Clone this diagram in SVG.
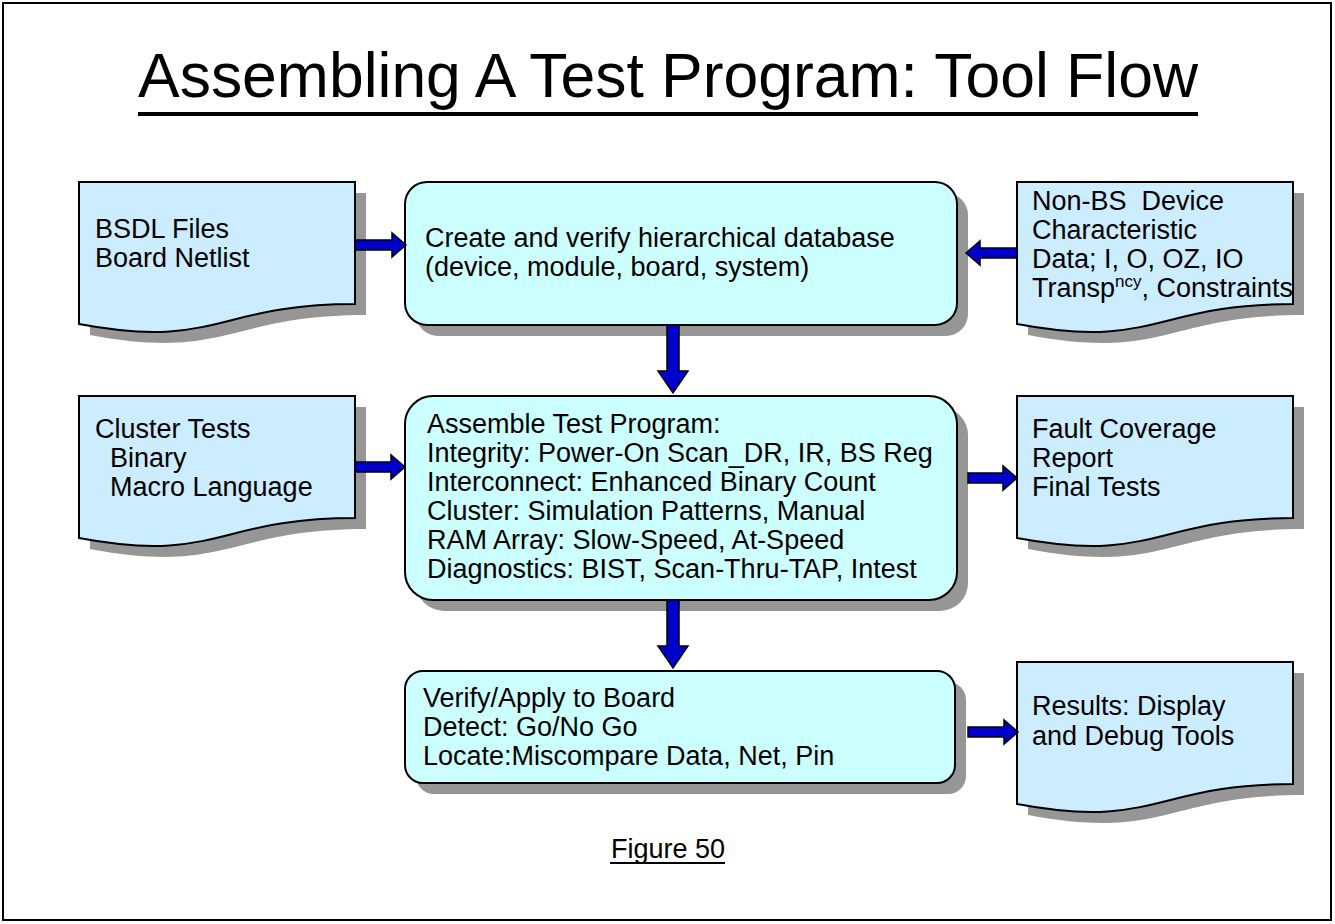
<svg xmlns="http://www.w3.org/2000/svg" width="1335" height="924" viewBox="0 0 1335 924">
<style>
text{font-family:"Liberation Sans",Arial,sans-serif;font-size:27px;fill:#000;white-space:pre}
.doc{fill:#CCECFF;stroke:#000;stroke-width:2}
.box{fill:#CCFFFF;stroke:#000;stroke-width:2}
.sh{fill:#969696}
.arr{fill:#0000CC;stroke:#000;stroke-width:1.5;stroke-linejoin:miter}
</style>
<rect x="3" y="3" width="1328" height="917" fill="#fff" stroke="#000" stroke-width="2"/>
<g id="title">
<text x="668" y="97" text-anchor="middle" style="font-size:62.5px" textLength="1060" lengthAdjust="spacingAndGlyphs">Assembling A Test Program: Tool Flow</text>
<rect x="138" y="112" width="1060" height="4" fill="#000"/>
</g>
<g id="bsdl">
<path class="sh" transform="translate(11,11)" d="M79,182 H355 V304 C217,304 217,350 79,324 Z"/>
<path class="doc" d="M79,182 H355 V304 C217,304 217,350 79,324 Z"/>
<text x="95" y="238">BSDL Files</text>
<text x="95" y="267">Board Netlist</text>
</g>
<g id="create">
<rect class="sh" x="416" y="193" width="552" height="143" rx="22"/>
<rect class="box" x="405" y="182" width="552" height="143" rx="22"/>
<text x="425" y="247">Create and verify hierarchical database</text>
<text x="425" y="276">(device, module, board, system)</text>
</g>
<g id="nonbs">
<path class="sh" transform="translate(11,11)" d="M1017,182 H1293 V304 C1155,304 1155,350 1017,324 Z"/>
<path class="doc" d="M1017,182 H1293 V304 C1155,304 1155,350 1017,324 Z"/>
<text x="1032" y="210">Non-BS  Device</text>
<text x="1032" y="239">Characteristic</text>
<text x="1032" y="268">Data; I, O, OZ, IO</text>
<text x="1032" y="297">Transp<tspan dy="-10" style="font-size:17px">ncy</tspan><tspan dy="10">, Constraints</tspan></text>
</g>
<g id="cluster">
<path class="sh" transform="translate(11,11)" d="M79,396 H355 V518 C217,518 217,564 79,538 Z"/>
<path class="doc" d="M79,396 H355 V518 C217,518 217,564 79,538 Z"/>
<text x="95" y="438">Cluster Tests</text>
<text x="95" y="467">  Binary</text>
<text x="95" y="496">  Macro Language</text>
</g>
<g id="assemble">
<rect class="sh" x="416" y="407" width="552" height="204" rx="28"/>
<rect class="box" x="405" y="396" width="552" height="204" rx="28"/>
<text x="427" y="433">Assemble Test Program:</text>
<text x="427" y="462">Integrity: Power-On Scan_DR, IR, BS Reg</text>
<text x="427" y="491">Interconnect: Enhanced Binary Count</text>
<text x="427" y="520">Cluster: Simulation Patterns, Manual</text>
<text x="427" y="549">RAM Array: Slow-Speed, At-Speed</text>
<text x="427" y="578">Diagnostics: BIST, Scan-Thru-TAP, Intest</text>
</g>
<g id="fault">
<path class="sh" transform="translate(11,11)" d="M1017,396 H1293 V518 C1155,518 1155,564 1017,538 Z"/>
<path class="doc" d="M1017,396 H1293 V518 C1155,518 1155,564 1017,538 Z"/>
<text x="1032" y="438">Fault Coverage</text>
<text x="1032" y="467">Report</text>
<text x="1032" y="496">Final Tests</text>
</g>
<g id="verify">
<rect class="sh" x="416" y="682" width="550" height="112" rx="18"/>
<rect class="box" x="405" y="671" width="550" height="112" rx="18"/>
<text x="423" y="707">Verify/Apply to Board</text>
<text x="423" y="736">Detect: Go/No Go</text>
<text x="423" y="765">Locate:Miscompare Data, Net, Pin</text>
</g>
<g id="results">
<path class="sh" transform="translate(11,11)" d="M1017,662 H1293 V784 C1155,784 1155,830 1017,804 Z"/>
<path class="doc" d="M1017,662 H1293 V784 C1155,784 1155,830 1017,804 Z"/>
<text x="1032" y="715">Results: Display</text>
<text x="1032" y="745">and Debug Tools</text>
</g>
<g id="connectors">
<polygon class="arr" points="355,240 392,240 392,233 406,245 392,257 392,250 355,250"/>
<polygon class="arr" points="1017,248 980,248 980,241 966,253 980,265 980,258 1017,258"/>
<polygon class="arr" points="355,462 391,462 391,455 405,467 391,479 391,472 355,472"/>
<polygon class="arr" points="968,473 1003,473 1003,466 1017,478 1003,490 1003,483 968,483"/>
<polygon class="arr" points="968,727 1004,727 1004,720 1018,732 1004,744 1004,737 968,737"/>
<polygon class="arr" points="667,325 679,325 679,371 688,371 673,393 658,371 667,371"/>
<polygon class="arr" points="667,600 679,600 679,646 688,646 673,668 658,646 667,646"/>
</g>
<g id="caption">
<text x="668" y="858" text-anchor="middle">Figure 50</text>
<rect x="610" y="862" width="115" height="2" fill="#000"/>
</g>
</svg>
